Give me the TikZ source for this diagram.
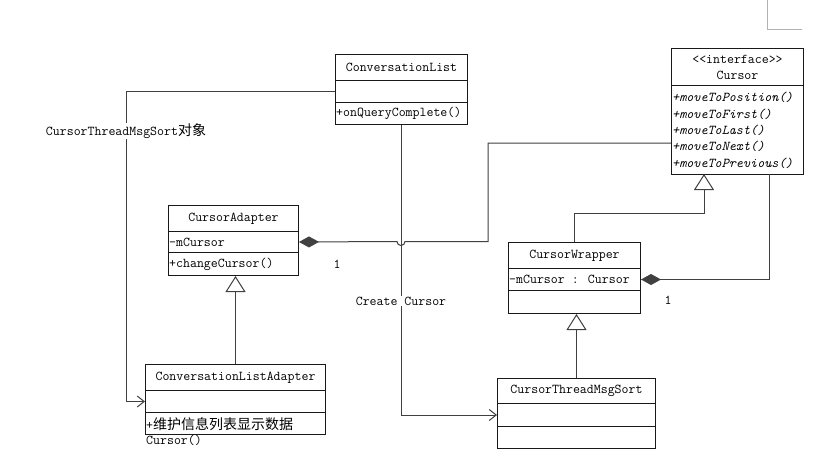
\documentclass[tikz,border=0pt]{standalone}
\usepackage{fontspec}
\newfontfamily\cjk{Noto Sans CJK SC}
\usetikzlibrary{arrows.meta}
\begin{document}
\begin{tikzpicture}[x=1pt,y=-1pt,
  font=\ttfamily\fontsize{13.5}{16}\selectfont,
  cbox/.style={draw=black!90, line width=1pt, inner sep=0pt, anchor=north west},
  txt/.style={anchor=west, inner sep=1pt},
  conn/.style={draw=black!75, line width=1pt},
  dep/.style={conn, -{Straight Barb[length=7pt,width=11pt]}},
  gen/.style={conn, -{Triangle[open,length=16pt,width=20pt,fill=white]}},
  comp/.style={conn, {Diamond[length=20pt,width=11pt]}-},
  lbl/.style={inner sep=1pt, fill=white}]
\useasboundingbox (0,0) rectangle (836,463);
\fill[white] (0,0) rectangle (836,463);
% artifact top right
\draw[black!30, line width=0.8pt] (767,0) -- (767,29) -- (802,29);

% ConversationList
\node[cbox, minimum width=132pt, minimum height=26pt] (cl-h) at (335,54) {ConversationList};
\node[cbox, minimum width=132pt, minimum height=22pt] (cl-a) at (335,80) {};
\node[cbox, minimum width=132pt, minimum height=22pt] (cl-m) at (335,102) {};
\node[txt] (cl-m1) at (cl-m.west) {+onQueryComplete()};

% Cursor
\node[cbox, minimum width=132pt, minimum height=37pt, align=center] (cu-h) at (671,48) {<<interface>>\\Cursor};
\node[cbox, minimum width=132pt, minimum height=89pt] (cu-m) at (671,85) {};
\node[txt] (cu-m1) at (671,97) {\itshape +moveToPosition()};
\node[txt] (cu-m2) at (671,114) {\itshape +moveToFirst()};
\node[txt] (cu-m3) at (671,130) {\itshape +moveToLast()};
\node[txt] (cu-m4) at (671,146) {\itshape +moveToNext()};
\node[txt] (cu-m5) at (671,163) {\itshape +moveToPrevious()};
\coordinate (cuC) at (671,143);
\coordinate (cuD) at (769,174);
\coordinate (cuE) at (704,174);

% CursorAdapter
\node[cbox, minimum width=130pt, minimum height=26pt] (ca-h) at (168,205) {CursorAdapter};
\node[cbox, minimum width=130pt, minimum height=21pt] (ca-a) at (168,231) {};
\node[cbox, minimum width=130pt, minimum height=23pt] (ca-m) at (168,252) {};
\node[txt] (ca-a1) at (ca-a.west) {-mCursor};
\node[txt] (ca-m1) at (ca-m.west) {+changeCursor()};

% CursorWrapper
\node[cbox, minimum width=132pt, minimum height=26pt] (cw-h) at (508,242) {CursorWrapper};
\node[cbox, minimum width=132pt, minimum height=22pt] (cw-a) at (508,268) {};
\node[cbox, minimum width=132pt, minimum height=23pt] (cw-m) at (508,290) {};
\node[txt] (cw-a1) at (cw-a.west) {-mCursor : Cursor};

% ConversationListAdapter
\node[cbox, minimum width=180pt, minimum height=26pt] (cla-h) at (145,364) {ConversationListAdapter};
\node[cbox, minimum width=180pt, minimum height=22pt] (cla-a) at (145,390) {};
\node[cbox, minimum width=180pt, minimum height=22pt] (cla-m) at (145,412) {};
\node[txt] (cla-m1) at (145,424) {+{\cjk\fontsize{14}{16}\selectfont 维护信息列表显示数据}};
\node[txt] (cla-m2) at (145,440) {Cursor()};

% CursorThreadMsgSort
\node[cbox, minimum width=158pt, minimum height=25pt] (cts-h) at (497,378) {CursorThreadMsgSort};
\node[cbox, minimum width=158pt, minimum height=23pt] (cts-a) at (497,403) {};
\node[cbox, minimum width=158pt, minimum height=22pt] (cts-m) at (497,426) {};

% dependency: ConversationList -> ConversationListAdapter
\draw[dep] (cl-a.west) -- ++(-209,0) |- (cla-a.west);
\node[lbl] (lbA) at (126,131) {CursorThreadMsgSort{\cjk\fontsize{14}{16}\selectfont 对象}};

% dependency: ConversationList -> CursorThreadMsgSort
\draw[dep] (cl-m.south) |- (cts-a.west);
\node[lbl] (lbB) at (401,301) {Create Cursor};

% composition CursorAdapter -> Cursor (with hop)
\draw[comp] (ca-a.east) -- (397,241.5) arc[start angle=180,end angle=0,radius=4] -- (488,241.5) |- (cuC);
\node (one1) at (337,264) {1};

% composition CursorWrapper -> Cursor
\draw[comp] (cw-a.east) -| (cuD);
\node (one2) at (668,300) {1};

% generalizations
\draw[gen] (cw-h.north) -- ++(0,-29) -| (cuE);
\draw[gen] (cla-h.north) -- (cla-h.north |- ca-m.south);
\draw[gen] (cts-h.north) -- (cts-h.north |- cw-m.south);
\end{tikzpicture}
\end{document}
